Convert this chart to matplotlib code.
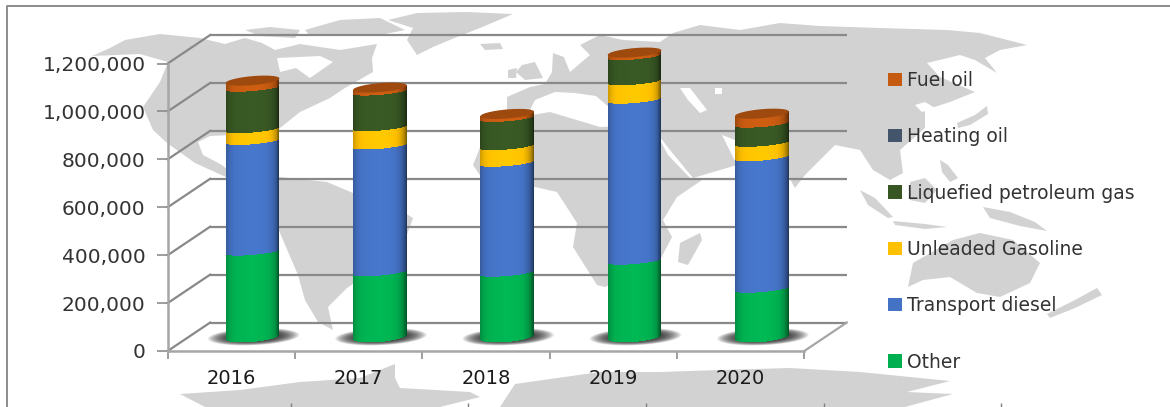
import numpy as np
import matplotlib
matplotlib.use("Agg")
import matplotlib.pyplot as plt
from matplotlib.patches import Patch, Polygon
from matplotlib.ticker import FuncFormatter

years = ["2016", "2017", "2018", "2019", "2020"]
other = [355000, 269000, 267000, 317000, 200000]
transport_diesel = [462000, 529000, 459000, 672000, 549000]
unleaded_gasoline = [49000, 76000, 69000, 77000, 60000]
lpg = [173000, 149000, 118000, 105000, 80000]
heating_oil = [0, 0, 0, 0, 0]
fuel_oil = [30000, 17000, 17000, 15000, 42000]

series_names = ["Other", "Transport diesel", "Unleaded Gasoline",
                "Liquefied petroleum gas", "Heating oil", "Fuel oil"]
series_values = [other, transport_diesel, unleaded_gasoline, lpg, heating_oil, fuel_oil]
series_colors = ["#00B050", "#4472C4", "#FFC000", "#375623", "#44546A", "#C55A11"]

# Background world map outline (decoration, figure pixels)
LAND = [
    [(92,56),(110,48),(125,40),(160,34),(200,38),(225,44),(245,38),(262,43),(275,50),(300,44),(340,50),(377,44),(372,58),
     (373,72),(345,88),(330,98),(300,112),(280,128),(268,140),(255,135),(230,135),(210,136),(198,142),(203,155),(222,165),
     (240,180),(228,178),(195,163),(167,143),(153,130),(143,107),(160,82),(168,62),(140,54)],
    [(240,180),(280,177),(327,182),(353,193),(395,207),(413,218),(405,240),(385,262),(347,288),(328,307),(333,330),(318,322),
     (305,300),(298,275),(280,233),(268,205)],
    [(407,40),(417,55),(433,47),(457,37),(480,28),(513,14),(467,12),(417,13),(388,20),(413,28)],
    [(305,30),(340,20),(380,18),(405,30),(380,35),(350,36),(310,36)],
    [(245,30),(270,27),(300,30),(295,38),(260,36)],
    [(480,44),(500,43),(503,49),(485,50)],
    [(522,65),(535,62),(543,78),(525,80),(516,72)],
    [(508,70),(517,68),(516,78),(508,78)],
    [(507,97),(530,87),(545,84),(552,72),(553,53),(572,60),(580,45),(600,35),(623,40),(660,42),(673,33),(700,25),(740,30),
     (780,23),(820,26),(880,28),(947,30),(980,33),(1027,45),(1000,50),(985,58),(997,73),(975,60),(960,55),(927,63),(940,77),
     (975,92),(950,102),(925,110),(925,128),(900,150),(903,173),(890,180),(873,170),(860,150),(835,145),(805,175),
     (795,188),(782,165),(755,150),(735,140),(722,135),(737,165),(693,178),(670,150),(652,127),(625,120),(610,108),
     (596,96),(575,93),(555,92),(535,100),(530,110),(507,110)],
    [(550,112),(600,127),(652,125),(668,155),(690,178),(705,178),(677,197),(663,220),(672,237),(660,260),(627,277),(605,287),
     (597,285),(573,247),(577,223),(557,192),(535,187),(490,190),(473,165),(485,135),(515,118)],
    [(700,233),(702,240),(688,265),(678,262),(680,243)],
    [(860,190),(875,198),(893,217),(888,218),(868,205)],
    [(910,182),(925,178),(937,190),(925,203),(910,200)],
    [(893,221),(925,224),(947,227),(925,229),(895,225)],
    [(983,207),(1010,212),(1035,222),(1047,231),(1020,226),(990,218)],
    [(940,160),(948,165),(958,178),(950,182),(942,172)],
    [(957,123),(975,115),(987,106),(988,114),(970,125),(958,128)],
    [(908,287),(913,263),(953,240),(980,233),(1013,240),(1040,263),(1030,283),(1000,297),(977,293),(950,277),(923,280)],
    [(1097,288),(1102,295),(1075,308),(1050,318),(1047,314),(1075,300)],
    [(180,394),(240,390),(300,382),(360,378),(395,364),(395,378),(400,388),(470,392),(480,397),(440,407),(205,407)],
    [(515,384),(600,372),(660,372),(720,370),(790,368),(860,372),(950,381),(907,392),(953,394),(905,407),(500,407)],
]
WATER = [
    [(680,88),(690,88),(707,110),(700,113),(688,100)],
    [(715,88),(722,88),(722,94),(715,94)],
    [(277,58),(320,56),(333,62),(310,78),(296,68),(280,72)],
    [(915,105),(925,102),(935,108),(922,112)],
    [(560,46),(577,42),(590,55),(570,72),(565,60)],
]

W, H = 1170, 407
fig = plt.figure(figsize=(W / 100, H / 100), dpi=100, facecolor="white")

bg = fig.add_axes([0, 0, 1, 1], zorder=0)
bg.set_xlim(0, W)
bg.set_ylim(H, 0)
bg.axis("off")
for poly in LAND:
    bg.add_patch(Polygon(poly, closed=True, fc="#D2D2D2", ec="none"))
for poly in WATER:
    bg.add_patch(Polygon(poly, closed=True, fc="white", ec="none"))
bg.plot([7, 7, W], [H, 6, 6], color="#8C8C8C", lw=1.4)
bg.vlines([291, 468, 646, 824, 1001], 403, H, color="#7F7F7F", lw=1)

LEFT, RIGHT, TOP, BOTTOM = 167.7, 804.3, 63.5, 351.0
ax = fig.add_axes([LEFT / W, 1 - BOTTOM / H, (RIGHT - LEFT) / W, (BOTTOM - TOP) / H], zorder=1)
ax.patch.set_alpha(0)
YMAX = 1200000
ax.set_xlim(-0.5, len(years) - 0.5)
ax.set_ylim(0, YMAX)
PX = (len(years)) / (RIGHT - LEFT)        # category units per pixel
PY = YMAX / (BOTTOM - TOP)                # value units per pixel
DX, DY = 42.5 * PX, 28.5 * PY             # depth of the chart box

GRID = "#898989"
ticks = np.arange(0, YMAX + 1, 200000)
x0, x1 = -0.5, len(years) - 0.5
for t in ticks:
    ax.plot([x0 + DX, x1 + DX], [t + DY, t + DY], color=GRID, lw=1.6, clip_on=False, zorder=1,
            solid_capstyle="butt")
    ax.plot([x0, x0 + DX], [t, t + DY], color=GRID, lw=1.6, clip_on=False, zorder=1)
ax.plot([x1, x1 + DX], [0, DY], color="#A6A6A6", lw=1.6, clip_on=False, zorder=1)


def shade(color, n=56):
    rgb = np.array(matplotlib.colors.to_rgb(color))
    u = np.linspace(-1, 1, n)
    edge = 0.32 * np.abs(u + 0.08) ** 6 + 0.05 * np.abs(u)
    f = 1.05 - edge
    return np.clip(rgb[None, :] * f[:, None], 0, 1)


HALF_W = 26.8 * PX
SLOPE = 0.085 * PY / PX
B_BASE, B_MID, B_TOP = 5.2 * PY, 3.2 * PY, 4.5 * PY
cx = np.arange(len(years)) + DX / 2
base = DY / 2
bottoms = np.zeros(len(years))

# soft floor shadow under each cylinder
for c in cx:
    for k in range(30):
        s = 1 - k * 0.016
        t = np.linspace(0, 2 * np.pi, 80)
        ex = 46 * PX * s * np.cos(t)
        ey = 8.5 * PY * s * np.sin(t) + SLOPE * 0.5 * ex
        ax.fill(c + ex + 1 * PX, base + ey, color="#1E1E1E", alpha=0.05, lw=0, zorder=2, clip_on=False)

for values, color, name in zip(series_values, series_colors, series_names):
    for i, v in enumerate(values):
        if v == 0:
            continue
        y0, y1 = base + bottoms[i], base + bottoms[i] + v
        edges = np.linspace(-1, 1, 57)
        ex = edges * HALF_W
        curve = np.sqrt(1 - edges ** 2)
        low = -(B_BASE if bottoms[i] == 0 else B_MID) * curve + SLOPE * ex
        high = -B_MID * curve + SLOPE * ex
        X = np.vstack([cx[i] + ex, cx[i] + ex])
        Y = np.vstack([y0 + low, y1 + high])
        ax.pcolormesh(X, Y, shade(color)[None, :, :], shading="flat", zorder=3, clip_on=False,
                      antialiased=False)
    bottoms += np.array(values)

# top caps of the cylinders
for i, c in enumerate(cx):
    t = np.linspace(0, 2 * np.pi, 100)
    ex = HALF_W * np.cos(t)
    ey = B_TOP * np.sin(t) + SLOPE * ex
    ax.fill(c + ex, base + bottoms[i] + ey, color="#9E490D", lw=0, zorder=4, clip_on=False)

ax.set_yticks(ticks)
ax.yaxis.set_major_formatter(FuncFormatter(lambda v, _: f"{int(v):,}"))
ax.set_xticks(np.arange(len(years)))
ax.set_xticklabels(years)
ax.set_xticks(np.arange(len(years) + 1) - 0.5, minor=True)
ax.tick_params(axis="y", length=8, width=1.2, color="#8C8C8C", pad=8, labelsize=14.5, labelcolor="#333333")
ax.tick_params(axis="x", which="major", length=0, pad=13, labelsize=14, labelcolor="#1A1A1A")
ax.tick_params(axis="x", which="minor", length=6, width=1.2, color="#8C8C8C")
for side in ("top", "right"):
    ax.spines[side].set_visible(False)
for side in ("left", "bottom"):
    ax.spines[side].set_color("#A6A6A6")
    ax.spines[side].set_linewidth(1.8)

handles = [Patch(fc=c, ec="none", label=n) for n, c in zip(series_names, series_colors)][::-1]
leg = ax.legend(handles=handles, loc="upper left", frameon=False, fontsize=13.5, labelcolor="#333333",
                bbox_to_anchor=(888 / W, 1 - 71 / H), bbox_transform=fig.transFigure,
                handlelength=0.72, handleheight=0.72, handletextpad=0.3, labelspacing=1.99,
                borderaxespad=0, borderpad=0)

fig.savefig("out.png", dpi=100)
